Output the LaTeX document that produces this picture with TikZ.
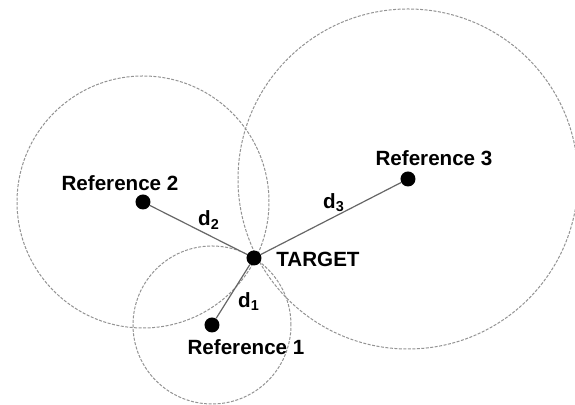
\documentclass[tikz,border=0pt]{standalone}
\usepackage{fontspec}
\setmainfont{Liberation Sans}
\usepackage{tikz}
\usetikzlibrary{backgrounds}

\begin{document}
\begin{tikzpicture}[x=0.5pt,y=0.5pt,
    font=\fontsize{10.3}{12}\selectfont\bfseries,
    dot/.style={circle,fill=black,inner sep=0pt,minimum size=7.5pt},
    reach/.style={draw=gray!85,line width=0.5pt,dash pattern=on 1.5pt off 0.75pt},
    dist/.style={draw=gray!80!black,line width=0.6pt}]
      \useasboundingbox (0,0) rectangle (575,405);
      % reference points and target
      \node[dot] (tgt) at (254,147) {};
      \node[dot] (ref1) at (212,80) {};
      \node[dot] (ref2) at (143,203) {};
      \node[dot] (ref3) at (408,226) {};
      % ranges
      \begin{scope}[on background layer]
      \draw[reach] (ref1.center) circle (79);
      \draw[reach] (ref2.center) circle (126);
      \draw[reach] (ref3.center) circle (170);
      \end{scope}
      % distances
      \draw[dist] (ref1) -- (tgt);
      \draw[dist] (ref2) -- (tgt);
      \draw[dist] (ref3) -- (tgt);
      \node (lref1) at (246,58) {Reference 1};
      \node (lref2) at (120,222) {Reference 2};
      \node (lref3) at (434,247) {Reference 3};
      \node (ltgt) at (318,146) {TARGET};
      \node (ld1) at (249,103) {d\textsubscript{1}};
      \node (ld2) at (209,185) {d\textsubscript{2}};
      \node (ld3) at (334,202) {d\textsubscript{3}};
\end{tikzpicture}
\end{document}
